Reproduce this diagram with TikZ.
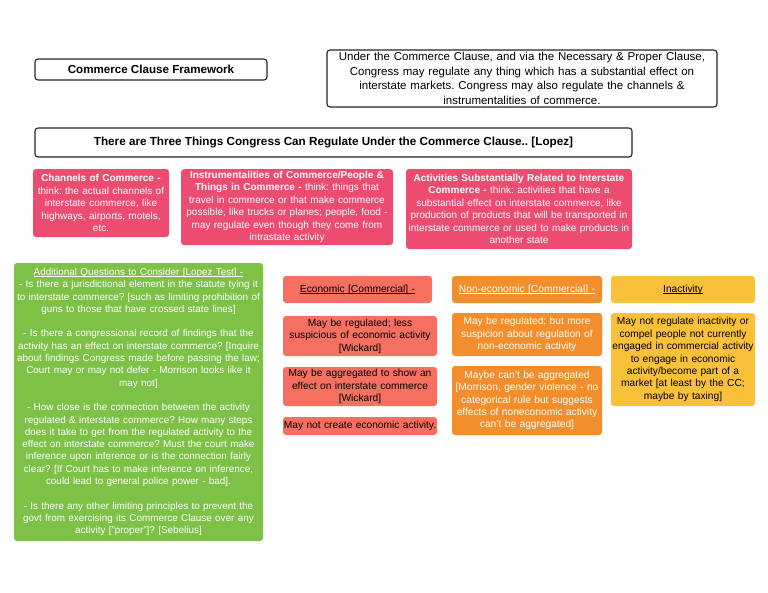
\documentclass[tikz,border=0pt]{standalone}
\usepackage{fontspec}
\setmainfont{Liberation Sans}
\usepackage{tikz}
\usetikzlibrary{positioning}
\definecolor{cc_pink}{RGB}{236, 76, 112}
\definecolor{cc_green}{RGB}{125, 193, 70}
\definecolor{cc_salmon}{RGB}{245, 112, 96}
\definecolor{cc_orange}{RGB}{242, 142, 43}
\definecolor{cc_yellow}{RGB}{249, 192, 58}
\frenchspacing
\hyphenpenalty=10000
\newcommand{\ccsmall}{\fontsize{9.9}{12.3}\selectfont}
\newcommand{\ccpinkfont}{\fontsize{10}{12.5}\selectfont}
\newcommand{\ccmid}{\fontsize{10.2}{12.4}\selectfont}
% thin underline sitting close to the text
\newcommand{\ccul}[1]{\setbox0\hbox{#1}\rlap{\rule[-1.6pt]{\wd0}{0.55pt}}\box0}
\tikzset{
  ccbox/.style={rectangle, rounded corners=3pt, align=center, inner sep=2pt},
  ccframe/.style={ccbox, draw=black!85, line width=1.1pt, fill=white},
  ccpink/.style={ccbox, fill=cc_pink, text=white, font=\ccpinkfont},
  cccol/.style={ccbox, font=\ccmid, inner xsep=0pt, text width=#1}
}

\begin{document}
\begin{tikzpicture}[x=1pt, y=-1pt]
  \useasboundingbox (0,0) rectangle (768,592);

  % heading boxes
  \node[ccframe, minimum width=232pt, minimum height=21pt, font=\fontsize{11.6}{13}\selectfont\bfseries] (title) at (151, 69.5) {Commerce Clause Framework};
  \node[ccframe, text width=386pt, minimum height=57pt, font=\fontsize{11.5}{14.6}\selectfont] (intro) at (522, 78.5)
    {Under the Commerce Clause, and via the Necessary \& Proper Clause,\\
     Congress may regulate any thing which has a substantial effect on\\
     interstate markets. Congress may also regulate the channels \&\\
     instrumentalities of commerce.};
  \node[ccframe, minimum width=597pt, minimum height=29pt, font=\fontsize{11.7}{13}\selectfont\bfseries] (three) at (333.5, 142.5)
    {There are Three Things Congress Can Regulate Under the Commerce Clause.. [Lopez]};

  % the three things
  \node[ccpink, text width=132pt, minimum height=68pt] (channels) at (101, 203)
    {\textbf{Channels of Commerce -}\\
     think: the actual channels of\\
     interstate commerce, like\\
     highways, airports, motels,\\
     etc.};
  \node[ccpink, text width=208pt, minimum height=72pt, anchor=north] (instr) at (287, 169)
    {\textbf{Instrumentalities of Commerce/People \&}\\
     \textbf{Things in Commerce -} think: things that\\
     travel in commerce or that make commerce\\
     possible, like trucks or planes; people, food -\\
     may regulate even though they come from\\
     intrastate activity};
  \node[ccpink, text width=222pt, minimum height=80pt] (activities) at (519, 209)
    {\textbf{Activities Substantially Related to Interstate}\\
     \textbf{Commerce -} think: activities that have a\\
     substantial effect on interstate commerce, like\\
     production of products that will be transported in\\
     interstate commerce or used to make products in\\
     another state};

  % lopez test questions
  \node[ccbox, fill=cc_green, text=white, font=\ccsmall, text width=249pt, minimum height=278pt, inner sep=0pt] (lopez) at (138.5, 402)
    {\ccul{Additional Questions to Consider [Lopez Test] -}\\
     - Is there a jurisdictional element in the statute tying it\\
     to interstate commerce? [such as limiting prohibition of\\
     guns to those that have crossed state lines]\\[12.3pt]
     - Is there a congressional record of findings that the\\
     activity has an effect on interstate commerce? [Inquire\\
     about findings Congress made before passing the law;\\
     Court may or may not defer - Morrison looks like it\\
     may not]\\[12.3pt]
     - How close is the connection between the activity\\
     regulated \& interstate commerce? How many steps\\
     does it take to get from the regulated activity to the\\
     effect on interstate commerce? Must the court make\\
     inference upon inference or is the connection fairly\\
     clear? [If Court has to make inference on inference,\\
     could lead to general police power - bad].\\[12.3pt]
     - Is there any other limiting principles to prevent the\\
     govt from exercising its Commerce Clause over any\\
     activity ["proper"]? [Sebelius]};

  % economic column
  \node[cccol=149pt, fill=cc_salmon, minimum height=27pt] (econ) at (357.5, 289.5) {\ccul{Economic [Commercial] -}};
  \node[cccol=154pt, fill=cc_salmon, minimum height=40pt] (econ1) at (360, 336)
    {May be regulated; less\\ suspicious of economic activity\\ {[Wickard]}};
  \node[cccol=154pt, fill=cc_salmon, minimum height=39pt] (econ2) at (360, 386.5)
    {May be aggregated to show an\\ effect on interstate commerce\\ {[Wickard]}};
  \node[cccol=154pt, fill=cc_salmon, minimum height=18pt] (econ3) at (360, 426)
    {May not create economic activity.};

  % non-economic column
  \node[cccol=150pt, fill=cc_orange, text=white, minimum height=27pt] (nonecon) at (527, 289.5) {\ccul{Non-economic [Commercial] -}};
  \node[cccol=150pt, fill=cc_orange, text=white, minimum height=43pt] (nonecon1) at (527, 334.5)
    {May be regulated; but more\\ suspicion about regulation of\\ non-economic activity};
  \node[cccol=150pt, fill=cc_orange, text=white, minimum height=69pt] (nonecon2) at (527, 400.5)
    {Maybe can't be aggregated\\ {[Morrison, gender violence - no}\\ categorical rule but suggests\\ effects of noneconomic activity\\ can't be aggregated]};

  % inactivity column
  \node[cccol=144pt, fill=cc_yellow, minimum height=27pt] (inact) at (683, 289.5) {\ccul{Inactivity}};
  \node[cccol=144pt, fill=cc_yellow, minimum height=93pt] (inact1) at (683, 359.5)
    {May not regulate inactivity or\\ compel people not currently\\ engaged in commercial activity\\ to engage in economic\\ activity/become part of a\\ market [at least by the CC;\\ maybe by taxing]};
\end{tikzpicture}
\end{document}
